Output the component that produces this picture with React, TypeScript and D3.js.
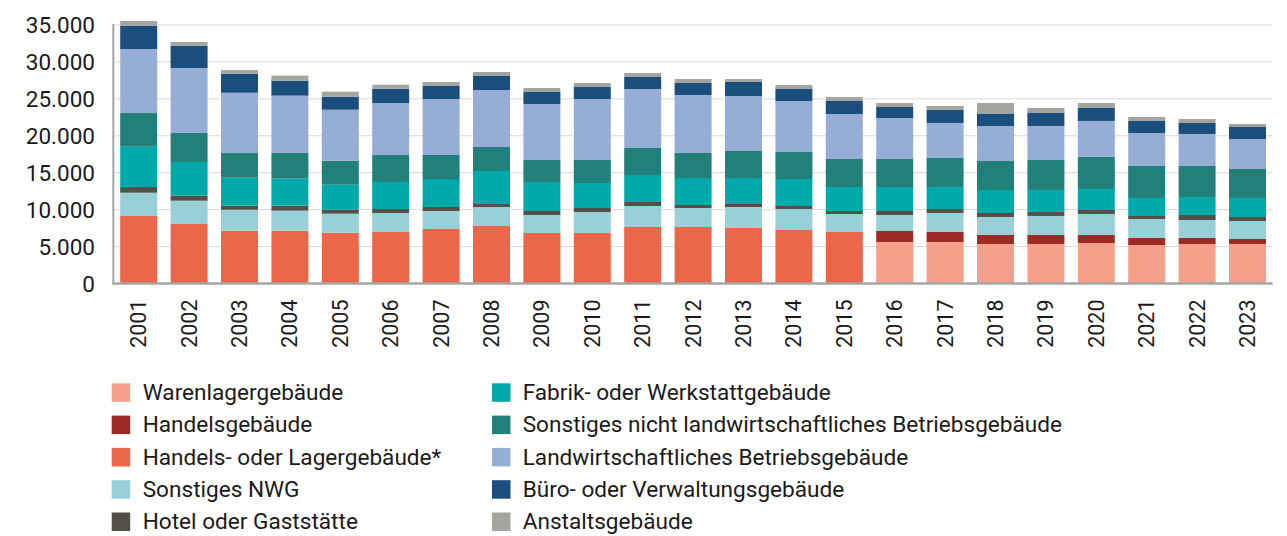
import React from "react";
import * as d3 from "d3";

const years = ["2001","2002","2003","2004","2005","2006","2007","2008","2009","2010","2011","2012","2013","2014","2015","2016","2017","2018","2019","2020","2021","2022","2023"];

const warenlager =      [0,0,0,0,0,0,0,0,0,0,0,0,0,0,0,5620,5620,5350,5350,5485,5215,5350,5350];
const handelsgebaeude = [0,0,0,0,0,0,0,0,0,0,0,0,0,0,0,1490,1355,1220,1220,1085,945,815,675];
const handelsLager =    [9140,8060,7150,7150,6880,6970,7380,7785,6840,6840,7650,7650,7515,7245,6975,0,0,0,0,0,0,0,0];
const sonstigesNWG =    [3150,3150,2840,2710,2570,2575,2440,2570,2435,2840,2845,2575,2845,2845,2435,2165,2575,2435,2575,2845,2575,2435,2440];
const hotel =           [770,680,540,680,540,540,540,405,540,540,540,405,405,405,405,540,540,540,540,540,405,680,540];
const fabrik =          [5460,4560,3790,3655,3385,3655,3790,4470,3925,3385,3655,3655,3520,3655,3250,3250,2980,3115,2980,2845,2435,2435,2575];
const sonstNichtLandw = [4560,3930,3345,3480,3250,3655,3250,3250,2980,3115,3655,3385,3655,3655,3790,3790,3925,3925,4060,4335,4335,4200,3925];
const landwirtschaft =  [8670,8800,8165,7760,6905,7040,7580,7720,7580,8260,7990,7855,7450,6905,6095,5550,4740,4740,4605,4875,4470,4330,4060];
const buero =           [3150,3020,2570,2030,1760,1935,1760,1895,1625,1625,1625,1625,1895,1625,1760,1490,1760,1625,1760,1760,1625,1490,1625];
const anstalt =         [640,500,500,680,680,540,540,540,540,540,540,540,405,540,540,540,540,1490,675,675,540,540,405];

const yTicks = [0,5000,10000,15000,20000,25000,30000,35000];

const series = [
  { key: "Warenlagergebäude", values: warenlager, color: "#F4A08A" },
  { key: "Handelsgebäude", values: handelsgebaeude, color: "#9E2A26" },
  { key: "Handels- oder Lagergebäude*", values: handelsLager, color: "#EC6649" },
  { key: "Sonstiges NWG", values: sonstigesNWG, color: "#98D0D8" },
  { key: "Hotel oder Gaststätte", values: hotel, color: "#545048" },
  { key: "Fabrik- oder Werkstattgebäude", values: fabrik, color: "#00AAAA" },
  { key: "Sonstiges nicht landwirtschaftliches Betriebsgebäude", values: sonstNichtLandw, color: "#22807A" },
  { key: "Landwirtschaftliches Betriebsgebäude", values: landwirtschaft, color: "#96AED6" },
  { key: "Büro- oder Verwaltungsgebäude", values: buero, color: "#1A4E7C" },
  { key: "Anstaltsgebäude", values: anstalt, color: "#A5A5A0" },
];

const W = 1287, H = 536;
const FONT = "Roboto, 'Noto Sans', sans-serif";

export default function App() {
  const x = d3.scaleBand<string>().domain(years).range([113.5, 1272.7]).paddingInner(0.266).paddingOuter(0.133);
  const y = d3.scaleLinear().domain([0, 35000]).range([283.5, 25]);

  const rows = years.map((yr, i) => {
    const r: any = { year: yr };
    series.forEach(s => { r[s.key] = s.values[i]; });
    return r;
  });
  const stacked = d3.stack<any>().keys(series.map(s => s.key))(rows);

  const legendLeft = series.slice(0, 5);
  const legendRight = series.slice(5);
  const rowY = (i: number) => 392.5 + i * 32.3;

  return (
    <svg width={W} height={H} style={{ position: "absolute", left: 0, top: 0, background: "#fff" }} fontFamily={FONT}>
      {yTicks.filter(t => t > 0).map(t => (
        <line key={"g" + t} x1={113.5} x2={1272.7} y1={y(t)} y2={y(t)} stroke="#d9d9d9" strokeWidth={1} />
      ))}
      {stacked.map((layer, li) => (
        <g key={layer.key} fill={series[li].color}>
          {layer.map((d, i) => {
            const h = y(d[0]) - y(d[1]);
            if (h <= 0) return null;
            return <rect key={i} x={x(years[i])} width={x.bandwidth()} y={y(d[1])} height={h} />;
          })}
        </g>
      ))}
      <line x1={113.3} x2={113.3} y1={y(35000) - 1} y2={y(0)} stroke="#a6a6a6" strokeWidth={2} />
      <line x1={112.3} x2={1272.7} y1={y(0)} y2={y(0)} stroke="#a6a6a6" strokeWidth={2.5} />
      {yTicks.map(t => (
        <text key={"t" + t} x={95} y={y(t)} textAnchor="end" dominantBaseline="central" fontSize={22.5} fill="#1a1a1a">
          {d3.format(",")(t).replace(/,/g, ".")}
        </text>
      ))}
      {years.map(yr => {
        const cx = (x(yr) as number) + x.bandwidth() / 2;
        return (
          <text key={"x" + yr} transform={`translate(${cx},${299.5}) rotate(-90)`} textAnchor="end" dominantBaseline="central" fontSize={21.5} fill="#1a1a1a">
            {yr}
          </text>
        );
      })}
      {legendLeft.map((s, i) => (
        <g key={s.key}>
          <rect x={111.7} y={rowY(i) - 9.2} width={18.5} height={18.5} fill={s.color} />
          <text x={142.7} y={rowY(i)} dominantBaseline="central" fontSize={22.6} fill="#1a1a1a">{s.key}</text>
        </g>
      ))}
      {legendRight.map((s, i) => (
        <g key={s.key}>
          <rect x={492} y={rowY(i) - 9.2} width={18.5} height={18.5} fill={s.color} />
          <text x={522.7} y={rowY(i)} dominantBaseline="central" fontSize={22.6} fill="#1a1a1a">{s.key}</text>
        </g>
      ))}
    </svg>
  );
}
